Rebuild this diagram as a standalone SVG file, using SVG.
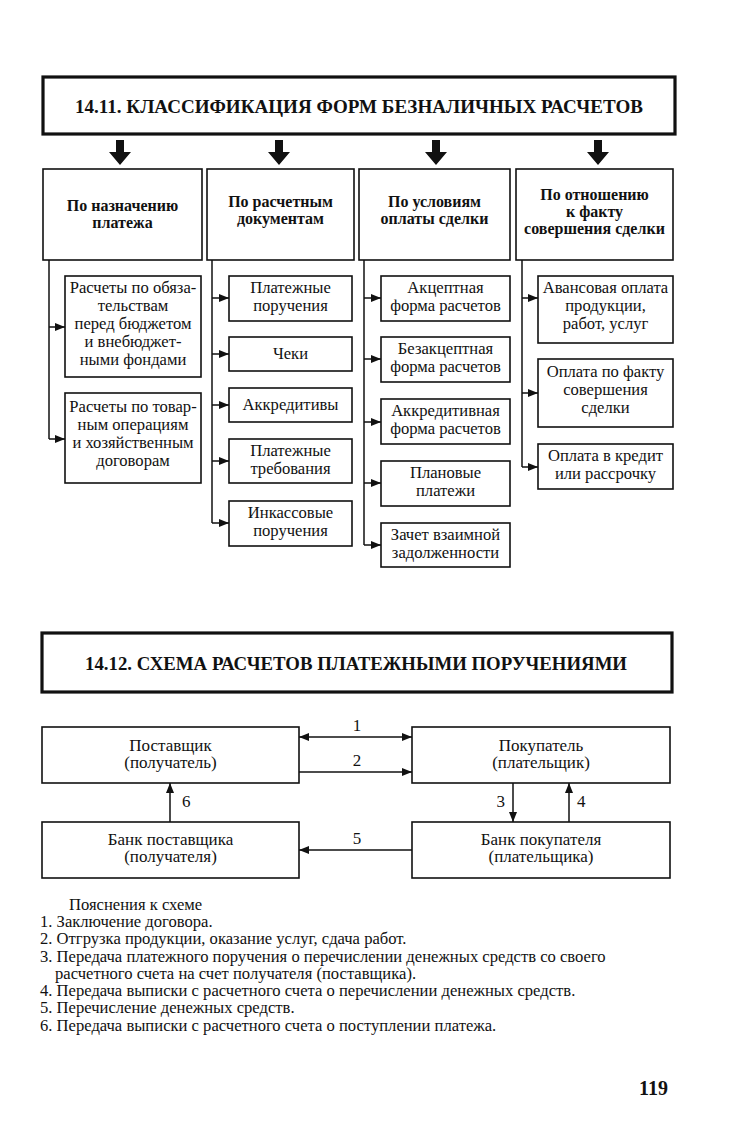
<svg xmlns="http://www.w3.org/2000/svg" width="750" height="1142" viewBox="0 0 750 1142">
<defs>
<style>
.box{fill:#fff;stroke:#111;stroke-width:1.6}
.tbox{fill:#fff;stroke:#111;stroke-width:3.2}
.ln{fill:none;stroke:#111;stroke-width:1.5}
.t{font-family:"Liberation Serif","Times New Roman",serif;font-size:16.6px;fill:#111;text-anchor:middle}
.h{font-family:"Liberation Serif","Times New Roman",serif;font-size:16px;font-weight:bold;fill:#111;text-anchor:middle}
.title{font-family:"Liberation Serif","Times New Roman",serif;font-size:19px;font-weight:bold;fill:#111;text-anchor:middle}
.b{font-family:"Liberation Serif","Times New Roman",serif;font-size:17px;fill:#111;text-anchor:middle}
.n{font-family:"Liberation Serif","Times New Roman",serif;font-size:16.6px;fill:#111}
.blk{fill:#111;stroke:none}
</style>
<marker id="ah" viewBox="0 0 10 8" refX="10" refY="4" markerWidth="10" markerHeight="8" markerUnits="userSpaceOnUse" orient="auto-start-reverse">
<path d="M0,0 L10,4 L0,8 z" fill="#111"/>
</marker>
<path id="bigarrow" d="M-4,0 L4,0 L4,12 L11,12 L0,25 L-11,12 L-4,12 z"/>
</defs>
<rect width="750" height="1142" fill="#fff"/>

<!-- Diagram 14.11 -->
<g id="title1">
<rect class="tbox" x="43" y="77" width="632" height="57"/>
<text class="title" x="359" y="113" textLength="568" lengthAdjust="spacingAndGlyphs">14.11. КЛАССИФИКАЦИЯ ФОРМ БЕЗНАЛИЧНЫХ РАСЧЕТОВ</text>
</g>

<g id="bigarrows" class="blk">
<use href="#bigarrow" x="120" y="140"/>
<use href="#bigarrow" x="279" y="140"/>
<use href="#bigarrow" x="436" y="140"/>
<use href="#bigarrow" x="598" y="140"/>
</g>

<g id="head1">
<rect class="box" x="43" y="169" width="159" height="91"/>
<text class="h" x="122.5" y="211">По назначению</text>
<text class="h" x="122.5" y="228">платежа</text>
</g>
<g id="head2">
<rect class="box" x="207" y="169" width="147" height="91"/>
<text class="h" x="280.5" y="207">По расчетным</text>
<text class="h" x="280.5" y="224">документам</text>
</g>
<g id="head3">
<rect class="box" x="359" y="169" width="151" height="91"/>
<text class="h" x="434.5" y="207">По условиям</text>
<text class="h" x="434.5" y="224">оплаты сделки</text>
</g>
<g id="head4">
<rect class="box" x="516" y="169" width="157" height="91"/>
<text class="h" x="594.5" y="200">По отношению</text>
<text class="h" x="594.5" y="217">к факту</text>
<text class="h" x="594.5" y="234">совершения сделки</text>
</g>

<g id="connectors">
<!-- column 1 -->
<path class="ln" d="M49,260 V439"/>
<path class="ln" d="M49,327 H65" marker-end="url(#ah)"/>
<path class="ln" d="M49,439 H65" marker-end="url(#ah)"/>
<!-- column 2 -->
<path class="ln" d="M212,260 V523"/>
<path class="ln" d="M212,298 H229" marker-end="url(#ah)"/>
<path class="ln" d="M212,354 H229" marker-end="url(#ah)"/>
<path class="ln" d="M212,405 H229" marker-end="url(#ah)"/>
<path class="ln" d="M212,461 H229" marker-end="url(#ah)"/>
<path class="ln" d="M212,523 H229" marker-end="url(#ah)"/>
<!-- column 3 -->
<path class="ln" d="M364,260 V545"/>
<path class="ln" d="M364,298 H381" marker-end="url(#ah)"/>
<path class="ln" d="M364,359 H381" marker-end="url(#ah)"/>
<path class="ln" d="M364,422 H381" marker-end="url(#ah)"/>
<path class="ln" d="M364,483 H381" marker-end="url(#ah)"/>
<path class="ln" d="M364,545 H381" marker-end="url(#ah)"/>
<!-- column 4 -->
<path class="ln" d="M522,260 V467"/>
<path class="ln" d="M522,298 H538" marker-end="url(#ah)"/>
<path class="ln" d="M522,393 H538" marker-end="url(#ah)"/>
<path class="ln" d="M522,467 H538" marker-end="url(#ah)"/>
<!-- diagram 14.12 -->
<path class="ln" d="M299,737 H412" marker-start="url(#ah)" marker-end="url(#ah)"/>
<path class="ln" d="M299,772 H412" marker-end="url(#ah)"/>
<path class="ln" d="M412,850 H299" marker-end="url(#ah)"/>
<path class="ln" d="M170,822 V783" marker-end="url(#ah)"/>
<path class="ln" d="M513,783 V822" marker-end="url(#ah)"/>
<path class="ln" d="M569,822 V783" marker-end="url(#ah)"/>
</g>

<!-- column 1 items -->
<g id="c1i1">
<rect class="box" x="65" y="276" width="136" height="101"/>
<text class="t" x="133" y="293">Расчеты по обяза-</text>
<text class="t" x="133" y="311">тельствам</text>
<text class="t" x="133" y="329">перед бюджетом</text>
<text class="t" x="133" y="347">и внебюджет-</text>
<text class="t" x="133" y="365">ными фондами</text>
</g>
<g id="c1i2">
<rect class="box" x="65" y="393" width="136" height="90"/>
<text class="t" x="133" y="412">Расчеты по товар-</text>
<text class="t" x="133" y="430">ным операциям</text>
<text class="t" x="133" y="448">и хозяйственным</text>
<text class="t" x="133" y="466">договорам</text>
</g>

<!-- column 2 items -->
<g id="c2i1">
<rect class="box" x="229" y="276" width="123" height="45"/>
<text class="t" x="290.5" y="293">Платежные</text>
<text class="t" x="290.5" y="311">поручения</text>
</g>
<g id="c2i2">
<rect class="box" x="229" y="337" width="123" height="34"/>
<text class="t" x="290.5" y="359">Чеки</text>
</g>
<g id="c2i3">
<rect class="box" x="229" y="388" width="123" height="34"/>
<text class="t" x="290.5" y="410">Аккредитивы</text>
</g>
<g id="c2i4">
<rect class="box" x="229" y="439" width="123" height="44"/>
<text class="t" x="290.5" y="456">Платежные</text>
<text class="t" x="290.5" y="474">требования</text>
</g>
<g id="c2i5">
<rect class="box" x="229" y="501" width="123" height="45"/>
<text class="t" x="290.5" y="518">Инкассовые</text>
<text class="t" x="290.5" y="536">поручения</text>
</g>

<!-- column 3 items -->
<g id="c3i1">
<rect class="box" x="381" y="276" width="129" height="45"/>
<text class="t" x="445.5" y="293">Акцептная</text>
<text class="t" x="445.5" y="311">форма расчетов</text>
</g>
<g id="c3i2">
<rect class="box" x="381" y="337" width="129" height="45"/>
<text class="t" x="445.5" y="354">Безакцептная</text>
<text class="t" x="445.5" y="372">форма расчетов</text>
</g>
<g id="c3i3">
<rect class="box" x="381" y="399" width="129" height="45"/>
<text class="t" x="445.5" y="416">Аккредитивная</text>
<text class="t" x="445.5" y="434">форма расчетов</text>
</g>
<g id="c3i4">
<rect class="box" x="381" y="461" width="129" height="45"/>
<text class="t" x="445.5" y="478">Плановые</text>
<text class="t" x="445.5" y="496">платежи</text>
</g>
<g id="c3i5">
<rect class="box" x="381" y="523" width="129" height="44"/>
<text class="t" x="445.5" y="540">Зачет взаимной</text>
<text class="t" x="445.5" y="558">задолженности</text>
</g>

<!-- column 4 items -->
<g id="c4i1">
<rect class="box" x="538" y="276" width="135" height="67"/>
<text class="t" x="605.5" y="293">Авансовая оплата</text>
<text class="t" x="605.5" y="311">продукции,</text>
<text class="t" x="605.5" y="329">работ, услуг</text>
</g>
<g id="c4i2">
<rect class="box" x="538" y="359" width="135" height="68"/>
<text class="t" x="605.5" y="377">Оплата по факту</text>
<text class="t" x="605.5" y="395">совершения</text>
<text class="t" x="605.5" y="413">сделки</text>
</g>
<g id="c4i3">
<rect class="box" x="538" y="444" width="135" height="45"/>
<text class="t" x="605.5" y="461">Оплата в кредит</text>
<text class="t" x="605.5" y="479">или рассрочку</text>
</g>

<!-- Diagram 14.12 -->
<g id="title2">
<rect class="tbox" x="42" y="633" width="630" height="59"/>
<text class="title" x="356" y="670" textLength="542" lengthAdjust="spacingAndGlyphs">14.12. СХЕМА РАСЧЕТОВ ПЛАТЕЖНЫМИ ПОРУЧЕНИЯМИ</text>
</g>
<g id="supplier">
<rect class="box" x="42" y="727" width="257" height="56"/>
<text class="b" x="170.5" y="751">Поставщик</text>
<text class="b" x="170.5" y="768">(получатель)</text>
</g>
<g id="buyer">
<rect class="box" x="412" y="727" width="258" height="56"/>
<text class="b" x="541" y="751">Покупатель</text>
<text class="b" x="541" y="768">(плательщик)</text>
</g>
<g id="supplierbank">
<rect class="box" x="42" y="822" width="257" height="56"/>
<text class="b" x="170.5" y="845">Банк поставщика</text>
<text class="b" x="170.5" y="862">(получателя)</text>
</g>
<g id="buyerbank">
<rect class="box" x="412" y="822" width="258" height="56"/>
<text class="b" x="541" y="845">Банк покупателя</text>
<text class="b" x="541" y="862">(плательщика)</text>
</g>
<g id="flowlabels">
<text class="b" x="357" y="731">1</text>
<text class="b" x="357" y="766">2</text>
<text class="b" x="357" y="844">5</text>
<text class="b" x="182" y="807" style="text-anchor:start">6</text>
<text class="b" x="505" y="807" style="text-anchor:end">3</text>
<text class="b" x="577" y="807" style="text-anchor:start">4</text>
</g>

<g id="notes">
<text class="n" x="69" y="910">Пояснения к схеме</text>
<text class="n" x="40" y="927">1. Заключение договора.</text>
<text class="n" x="40" y="944">2. Отгрузка продукции, оказание услуг, сдача работ.</text>
<text class="n" x="40" y="962">3. Передача платежного поручения о перечислении денежных средств со своего</text>
<text class="n" x="55" y="979">расчетного счета на счет получателя (поставщика).</text>
<text class="n" x="40" y="996">4. Передача выписки с расчетного счета о перечислении денежных средств.</text>
<text class="n" x="40" y="1013">5. Перечисление денежных средств.</text>
<text class="n" x="40" y="1031">6. Передача выписки с расчетного счета о поступлении платежа.</text>
</g>
<text id="pagenum" x="668" y="1095" style="font-family:'Liberation Serif','Times New Roman',serif;font-size:20px;font-weight:bold;fill:#111;text-anchor:end">119</text>
</svg>
